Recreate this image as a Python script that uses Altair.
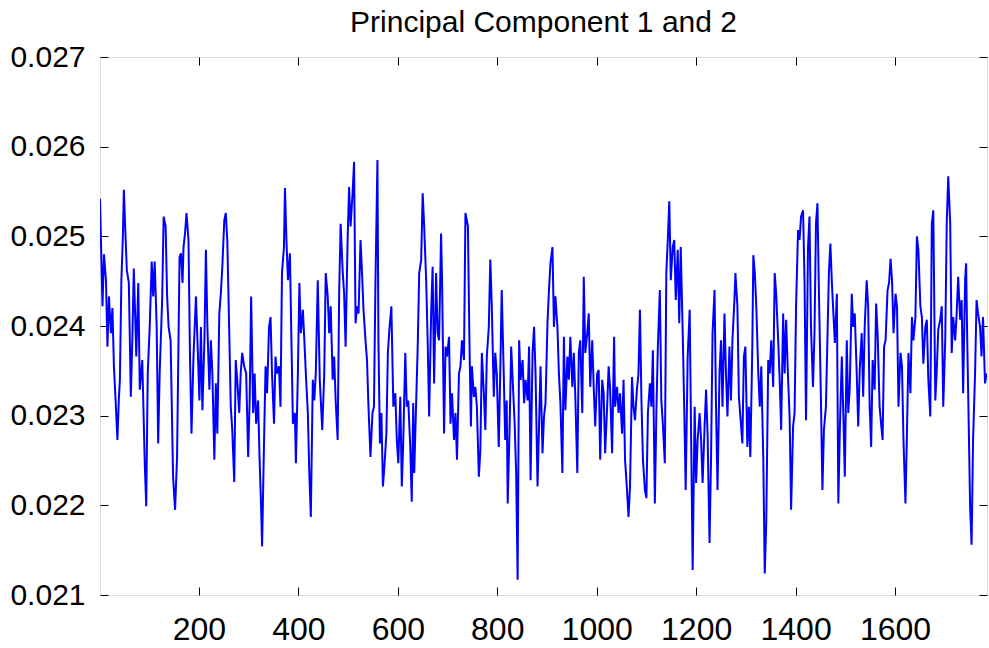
import altair as alt
import pandas as pd

TITLE = "Principal Component 1 and 2"

# sample index (x)
idx = [
    1, 6, 9, 13, 16, 19, 23, 26, 29, 33, 36, 39, 41, 44, 47, 49, 52, 55, 59, 63, 66, 69, 74, 78, 81, 86, 91, 94, 97,
    101, 105, 108, 111, 115, 118, 121, 126, 129, 133, 136, 139, 143,
    148, 152, 156, 161, 164, 167, 169, 172, 175, 179, 182, 185, 189, 194, 197, 201, 204, 207, 211, 214, 217, 221,
    224, 227, 231, 234, 237, 241, 244, 247, 251, 254, 257, 261, 264, 267, 271, 274, 277, 281, 284, 287, 291,
    295, 299, 302, 305, 309, 312, 315, 319, 322, 325, 327, 331, 334, 337, 341, 344, 347, 351, 354, 357, 361, 364,
    367, 371, 373, 376, 379, 383, 386, 389, 393, 395, 399, 402, 405, 409, 412, 415, 419, 422, 425, 429, 432, 435, 439,
    443, 448, 452, 455, 459, 462, 465, 469, 472, 475, 479, 482, 485, 489, 492, 495, 499, 502, 505, 509, 512, 515,
    518, 521, 525, 528, 531, 535, 538, 541, 545, 549, 552, 555, 559, 561, 564, 567, 570, 573, 577, 580, 583, 587,
    591, 595, 598, 601, 605, 608, 611, 615, 618, 621, 625, 628, 631, 633, 637, 640, 643, 647, 650, 653, 657, 660,
    663, 667, 670, 673, 677, 680, 683, 687, 689, 693, 696, 699, 703, 706, 709, 713, 716, 719, 723, 726, 729, 733, 736,
    741, 744, 747, 749, 753, 756, 759, 763, 766, 769, 773, 776, 779, 783, 786, 789, 793, 796, 799, 803, 806, 809,
    813, 816, 819, 821, 825, 828, 831, 835, 838, 841, 844, 847, 851, 854, 857, 861, 864, 867, 871, 874, 877, 881,
    887, 891, 894, 897, 901, 904, 907, 911, 914, 917, 921, 924, 927, 931, 934, 937, 941, 944, 947, 951, 954, 957,
    961, 964, 967, 971, 974, 977, 981, 984, 987, 991, 994, 997, 1001, 1004, 1007, 1011, 1014, 1017, 1021, 1024, 1027, 1031,
    1035, 1037, 1041, 1044, 1047, 1051, 1054, 1057, 1061, 1064, 1067, 1071, 1074, 1077, 1081, 1084, 1087, 1090,
    1093, 1097, 1100, 1103, 1107, 1110, 1113, 1117, 1120, 1123, 1127, 1130, 1133, 1137, 1140, 1143, 1146, 1149,
    1153, 1156, 1159, 1163, 1166, 1169, 1173, 1176, 1179,
    1183, 1187, 1190, 1193, 1197, 1200, 1203, 1207, 1210, 1213, 1217, 1220, 1223, 1227, 1230, 1233, 1237, 1240,
    1243, 1247, 1250, 1253, 1257, 1260, 1263, 1267, 1270, 1273, 1277, 1279, 1283, 1286, 1289, 1293, 1296, 1299,
    1303, 1306, 1309, 1313, 1315, 1318, 1321, 1325, 1328,
    1331, 1335, 1338, 1341, 1345, 1348, 1351, 1355, 1358, 1361, 1365, 1368, 1371, 1375, 1378, 1381, 1385, 1388,
    1391, 1395, 1398, 1401, 1405, 1408, 1411, 1415, 1418, 1421, 1425, 1428, 1431, 1435, 1438, 1441, 1444, 1447,
    1451, 1454, 1457, 1461, 1464, 1467, 1470, 1473,
    1479, 1483, 1486, 1489, 1493, 1496, 1499, 1503, 1506, 1509, 1513, 1516, 1519, 1523, 1526, 1529, 1533, 1536,
    1539, 1543, 1546, 1549, 1552, 1555, 1559, 1562, 1565, 1569, 1572, 1575, 1578, 1581, 1585, 1588, 1591, 1594,
    1597, 1601, 1604, 1607, 1611, 1614, 1617, 1621,
    1624, 1627, 1631, 1634, 1637, 1641, 1644, 1647, 1651, 1654, 1657, 1661, 1664, 1667, 1671, 1674, 1677, 1681,
    1684, 1687, 1691, 1694, 1697, 1701, 1704, 1707, 1711, 1714, 1717, 1721, 1724, 1727, 1731, 1734, 1737, 1741,
    1743, 1745, 1748, 1751, 1754, 1757, 1761, 1764, 1767, 1771, 1774, 1777, 1781, 1784,
]

# component value at each index
pc = [
    0.02542, 0.02422, 0.02480, 0.02451, 0.02377, 0.02433, 0.02392, 0.02420, 0.02355, 0.02310, 0.02273, 0.02320,
    0.02340, 0.02451, 0.02500, 0.02552, 0.02505, 0.02462, 0.02448, 0.02321, 0.02384, 0.02464, 0.02366, 0.02448,
    0.02329, 0.02362, 0.02247, 0.02199, 0.02347, 0.02399, 0.02472, 0.02433, 0.02472, 0.02399, 0.02269, 0.02347,
    0.02429, 0.02522, 0.02511, 0.02433, 0.02399, 0.02384,
    0.02232, 0.02195, 0.02254, 0.02477, 0.02481, 0.02448, 0.02488, 0.02503, 0.02526, 0.02496, 0.02366, 0.02280,
    0.02366, 0.02433, 0.02384, 0.02317, 0.02399, 0.02306, 0.02384, 0.02485, 0.02399, 0.02329, 0.02384, 0.02347,
    0.02251, 0.02336, 0.02280, 0.02414, 0.02436, 0.02466, 0.02518, 0.02526, 0.02496, 0.02392, 0.02310, 0.02284,
    0.02226, 0.02362, 0.02340, 0.02303, 0.02347, 0.02370, 0.02355,
    0.02347, 0.02254, 0.02317, 0.02433, 0.02303, 0.02347, 0.02291, 0.02317, 0.02251, 0.02199, 0.02154, 0.02273,
    0.02355, 0.02325, 0.02399, 0.02410, 0.02347, 0.02291, 0.02366, 0.02347, 0.02355, 0.02310, 0.02459, 0.02488,
    0.02554, 0.02496, 0.02451, 0.02481, 0.02384, 0.02291, 0.02303, 0.02247, 0.02347, 0.02448, 0.02392, 0.02418,
    0.02384, 0.02347, 0.02303, 0.02236, 0.02187, 0.02340, 0.02317, 0.02347, 0.02451,
    0.02340, 0.02284, 0.02347, 0.02459, 0.02433, 0.02392, 0.02422, 0.02340, 0.02366, 0.02317, 0.02273, 0.02436,
    0.02514, 0.02462, 0.02436, 0.02377, 0.02496, 0.02555, 0.02511, 0.02548, 0.02583, 0.02403, 0.02422, 0.02414,
    0.02496, 0.02459, 0.02418, 0.02384, 0.02362, 0.02310, 0.02254, 0.02303, 0.02310, 0.02448, 0.02585, 0.02384,
    0.02269, 0.02303, 0.02221, 0.02243, 0.02280, 0.02370, 0.02396, 0.02422,
    0.02310, 0.02325, 0.02273, 0.02247, 0.02321, 0.02221, 0.02273, 0.02370, 0.02310, 0.02317, 0.02265, 0.02204,
    0.02314, 0.02236, 0.02317, 0.02377, 0.02459, 0.02474, 0.02548, 0.02511, 0.02451, 0.02384, 0.02299, 0.02414,
    0.02466, 0.02336, 0.02459, 0.02392, 0.02384, 0.02503, 0.02451, 0.02280, 0.02377, 0.02366, 0.02388, 0.02291,
    0.02325, 0.02273, 0.02303, 0.02251, 0.02347, 0.02355, 0.02384, 0.02362, 0.02526,
    0.02511, 0.02384, 0.02288, 0.02355, 0.02321, 0.02332, 0.02310, 0.02232, 0.02262, 0.02370, 0.02325, 0.02284,
    0.02366, 0.02399, 0.02474, 0.02422, 0.02321, 0.02370, 0.02347, 0.02265, 0.02347, 0.02440, 0.02347, 0.02273,
    0.02317, 0.02202, 0.02291, 0.02377, 0.02340, 0.02291, 0.02236, 0.02117, 0.02384, 0.02340, 0.02362, 0.02314,
    0.02340, 0.02317, 0.02377, 0.02228, 0.02370, 0.02399, 0.02347, 0.02221,
    0.02355, 0.02258, 0.02299, 0.02314, 0.02403, 0.02440, 0.02470, 0.02488, 0.02399, 0.02433, 0.02399, 0.02347,
    0.02314, 0.02236, 0.02388, 0.02306, 0.02366, 0.02340, 0.02388, 0.02332, 0.02370, 0.02321, 0.02236, 0.02370,
    0.02384, 0.02303, 0.02455, 0.02370, 0.02392, 0.02414, 0.02332, 0.02384, 0.02332, 0.02288, 0.02347, 0.02351,
    0.02251, 0.02340, 0.02325, 0.02258, 0.02310, 0.02355, 0.02329, 0.02258,
    0.02388, 0.02310, 0.02332, 0.02303, 0.02325, 0.02280, 0.02340, 0.02251, 0.02217, 0.02187, 0.02221, 0.02343,
    0.02310, 0.02295, 0.02330, 0.02347, 0.02418, 0.02317, 0.02251, 0.02217, 0.02208, 0.02303, 0.02336, 0.02310,
    0.02373, 0.02202, 0.02303, 0.02377, 0.02440, 0.02317, 0.02291, 0.02247, 0.02459, 0.02496, 0.02539, 0.02451,
    0.02488, 0.02496, 0.02429, 0.02485, 0.02403, 0.02488, 0.02392, 0.02310, 0.02217,
    0.02366, 0.02418, 0.02273, 0.02128, 0.02310, 0.02225, 0.02273, 0.02303, 0.02273, 0.02225, 0.02288, 0.02329,
    0.02280, 0.02158, 0.02254, 0.02392, 0.02440, 0.02310, 0.02217, 0.02347, 0.02384, 0.02310, 0.02414, 0.02347,
    0.02299, 0.02377, 0.02317, 0.02384, 0.02429, 0.02459, 0.02422, 0.02321, 0.02299, 0.02269, 0.02366, 0.02377,
    0.02265, 0.02310, 0.02254, 0.02377, 0.02479, 0.02459, 0.02422, 0.02347, 0.02310,
    0.02355, 0.02254, 0.02124, 0.02180, 0.02362, 0.02347, 0.02384, 0.02332, 0.02459, 0.02436, 0.02384, 0.02340,
    0.02284, 0.02414, 0.02347, 0.02407, 0.02340, 0.02299, 0.02195, 0.02288, 0.02303, 0.02422, 0.02507, 0.02496,
    0.02522, 0.02529, 0.02451, 0.02295, 0.02488, 0.02522, 0.02399, 0.02332, 0.02392, 0.02514, 0.02537, 0.02436,
    0.02317, 0.02217, 0.02284, 0.02310, 0.02384, 0.02459, 0.02492, 0.02448,
    0.02381, 0.02436, 0.02202, 0.02284, 0.02366, 0.02303, 0.02232, 0.02384, 0.02303, 0.02332, 0.02436, 0.02399,
    0.02414, 0.02347, 0.02288, 0.02351, 0.02392, 0.02321, 0.02399, 0.02451, 0.02422, 0.02310, 0.02265, 0.02362,
    0.02329, 0.02425, 0.02392, 0.02310, 0.02291, 0.02273, 0.02377, 0.02384, 0.02440, 0.02448, 0.02475, 0.02451,
    0.02392, 0.02436, 0.02422, 0.02310, 0.02370, 0.02355, 0.02273, 0.02202,
    0.02280, 0.02370, 0.02325, 0.02410, 0.02384, 0.02410, 0.02500, 0.02485, 0.02422, 0.02410, 0.02358, 0.02399,
    0.02407, 0.02340, 0.02299, 0.02514, 0.02529, 0.02317, 0.02351, 0.02396, 0.02407, 0.02422, 0.02310, 0.02384,
    0.02514, 0.02567, 0.02514, 0.02370, 0.02410, 0.02384, 0.02414, 0.02455, 0.02407, 0.02429, 0.02325, 0.02451,
    0.02470, 0.02392, 0.02299, 0.02199, 0.02156, 0.02273, 0.02347, 0.02429, 0.02414, 0.02399, 0.02366, 0.02410,
    0.02336, 0.02347,
]

x_ticks = [200, 400, 600, 800, 1000, 1200, 1400, 1600]
y_ticks = [0.021, 0.022, 0.023, 0.024, 0.025, 0.026, 0.027]

df = pd.DataFrame({"idx": idx, "pc": pc})

FONT = "Liberation Sans"

x_scale = alt.Scale(domain=[1, 1785], nice=False, zero=False)
y_scale = alt.Scale(domain=[0.021, 0.027], nice=False, zero=False)

common_axis = dict(grid=False, domain=False, tickSize=8, offset=-8, tickColor="black",
                   tickWidth=1, title=None)

line = alt.Chart(df).mark_line(color="#0000ff", strokeWidth=2, clip=True).encode(
    x=alt.X("idx:Q", scale=x_scale,
            axis=alt.Axis(orient="bottom", values=x_ticks, format="d", labelFont=FONT,
                          labelFontSize=32, labelColor="black", labelPadding=19,
                          **common_axis)),
    y=alt.Y("pc:Q", scale=y_scale,
            axis=alt.Axis(orient="left", values=y_ticks, format=".3f", labelFont=FONT,
                          labelFontSize=30, labelColor="black", labelPadding=15,
                          **common_axis)),
)

mirror = alt.Chart(df).mark_line(opacity=0, clip=True).encode(
    x=alt.X("idx:Q", scale=x_scale,
            axis=alt.Axis(orient="top", values=x_ticks, labels=False, **common_axis)),
    y=alt.Y("pc:Q", scale=y_scale,
            axis=alt.Axis(orient="right", values=y_ticks, labels=False, **common_axis)),
)

chart = alt.layer(line, mirror).resolve_axis(x="independent", y="independent").properties(
    width=887,
    height=538,
    autosize=alt.AutoSizeParams(type="none"),
    padding={"left": 100, "top": 57, "right": 2, "bottom": 53},
    title=alt.TitleParams(TITLE, font=FONT, fontSize=30, fontWeight="normal", color="black",
                          anchor="middle", offset=4),
).configure_view(stroke="black", strokeWidth=1.2).configure(background="white")

chart.save("out.html", embed_options={"renderer": "svg", "actions": False})
